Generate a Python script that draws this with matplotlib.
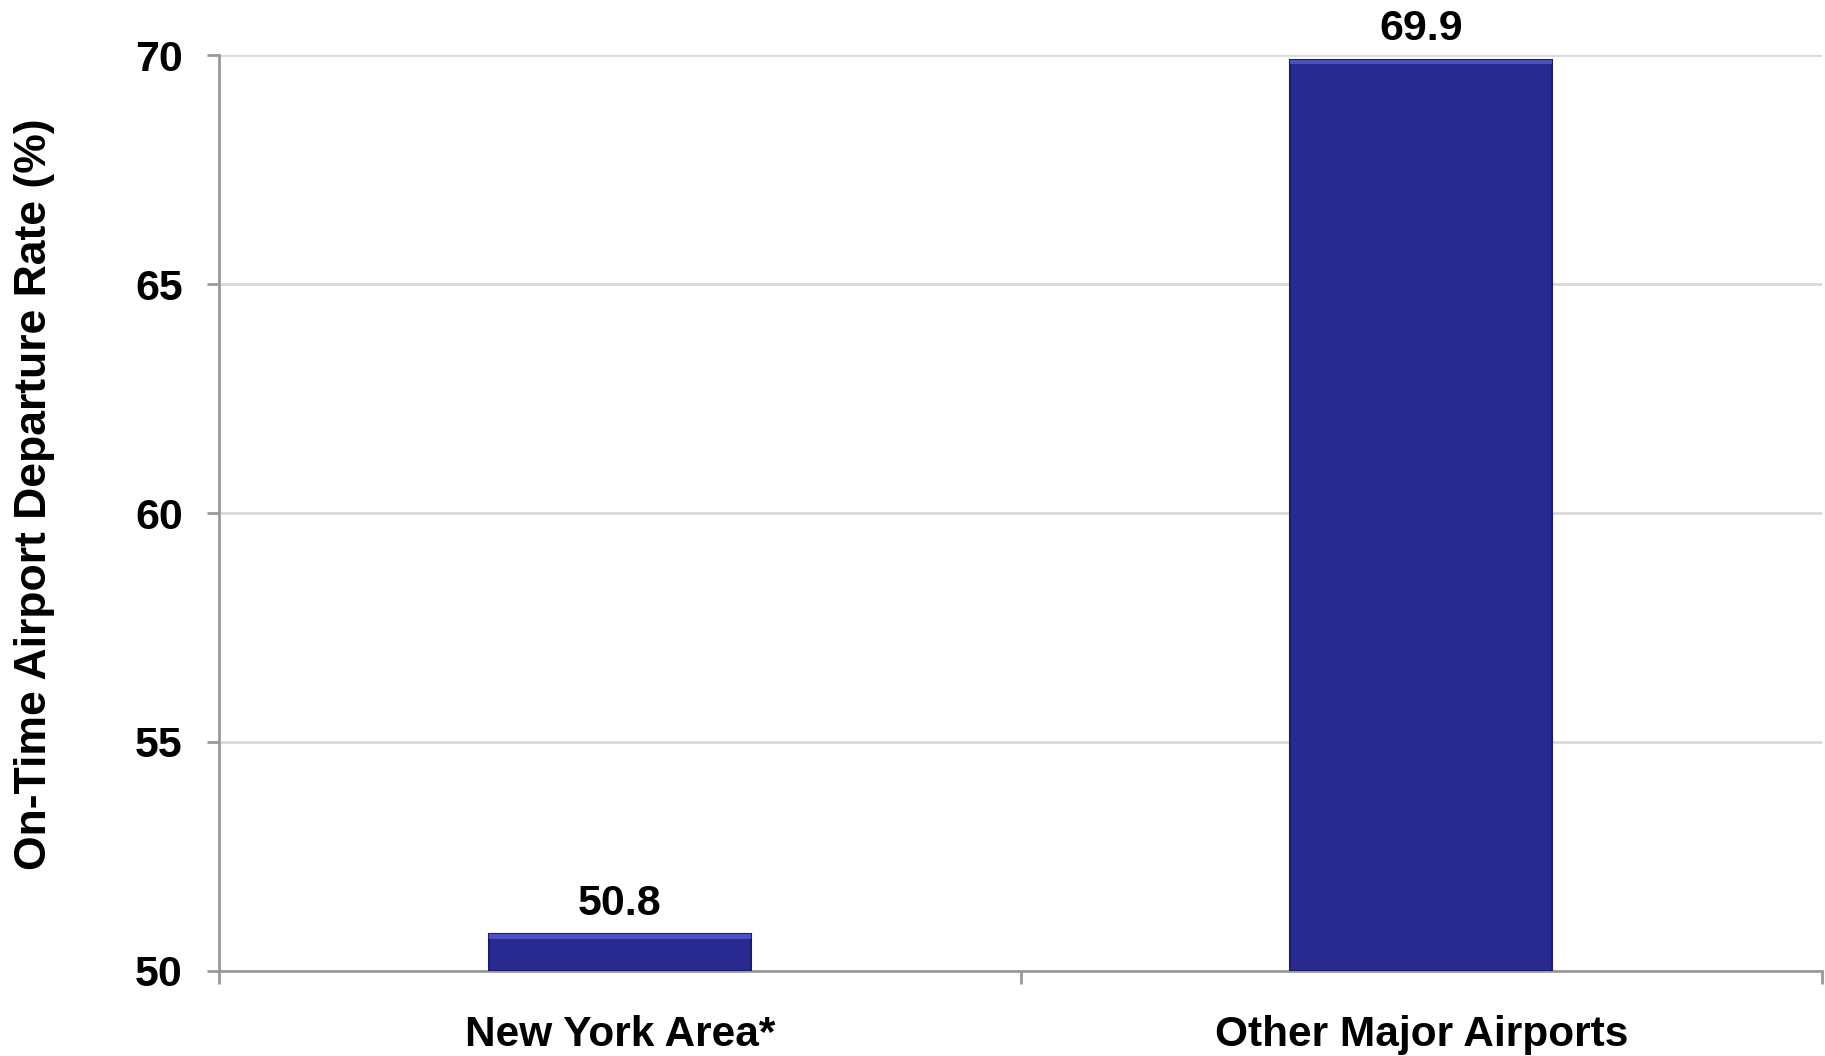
import matplotlib
matplotlib.use("Agg")
import matplotlib.pyplot as plt

categories = ["New York Area*", "Other Major Airports"]
values = [50.8, 69.9]
yticks = [50, 55, 60, 65, 70]
ylabel = "On-Time Airport Departure Rate (%)"

plt.rcParams['font.family'] = ['Liberation Sans', 'DejaVu Sans']
plt.rcParams['font.weight'] = 'bold'

fig = plt.figure(figsize=(18.25, 10.56), dpi=100)
ax = fig.add_axes([0.12, 0.0805, 0.8784, 0.8674])

x = list(range(len(categories)))
base = yticks[0]
heights = [v - base for v in values]
bars = ax.bar(x, heights, bottom=base, width=0.327, color='#282A90',
              edgecolor='#1c1d6a', linewidth=1.5, zorder=3)
# subtle bevel highlight on top of each bar
for b in bars:
    ax.bar(b.get_x() + b.get_width() / 2, 0.1, bottom=b.get_y() + b.get_height() - 0.1,
           width=b.get_width(), color='#4e51c0', linewidth=0, zorder=4)

for xi, v in zip(x, values):
    ax.annotate(f"{v:.1f}", (xi, v), xytext=(0, 14), textcoords='offset points',
                ha='center', va='baseline', fontsize=31, fontweight='bold')

ax.set_ylim(50, 70)
ax.set_xlim(-0.5, len(categories) - 0.5)
ax.set_yticks(yticks)
ax.set_yticklabels([str(t) for t in yticks], fontsize=31, fontweight='bold')
ax.set_xticks(x)
ax.set_xticklabels(categories, fontsize=30.5, fontweight='bold')
ax.set_xticks([-0.5, 0.5, 1.5], minor=True)
ax.tick_params(axis='x', which='major', length=0, pad=32)
ax.tick_params(axis='x', which='minor', length=9, width=2, color='#999999')
ax.tick_params(axis='y', which='major', length=9, width=2, color='#999999', pad=17)

ax.yaxis.grid(True, color='#d9d9d9', linewidth=2, zorder=0)
ax.set_axisbelow(True)
for s in ['top', 'right']:
    ax.spines[s].set_visible(False)
for s in ['left', 'bottom']:
    ax.spines[s].set_color('#999999')
    ax.spines[s].set_linewidth(2)

ax.set_ylabel(ylabel, fontsize=32, fontweight='bold')
ax.yaxis.set_label_coords(-0.1025, 0.52)

fig.savefig("out.png", dpi=100)
